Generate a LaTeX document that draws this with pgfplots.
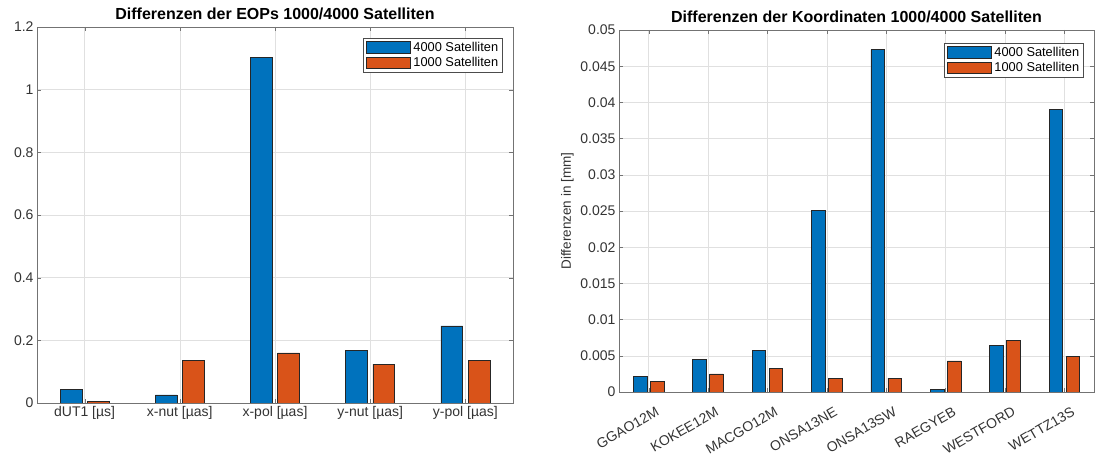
\documentclass[border=0pt]{standalone}
\usepackage{fontspec}
\setmainfont{Liberation Sans}
\usepackage{pgfplots}
\pgfplotsset{compat=1.18}
\definecolor{mblue}{rgb}{0,0.447,0.741}
\definecolor{morange}{rgb}{0.85,0.325,0.098}
\pgfplotsset{
  mstyle/.style={
    scale only axis,
    ybar,
    axis line style={black!55},
    tick style={black!55},
    major tick length=4pt,
    tick align=inside,
    grid=major,
    grid style={black!12, line width=0.5pt},
    enlargelimits=false,
    ymin=0,
    every tick label/.append style={font=\fontsize{14}{16}\selectfont, text=black!80},
    /pgf/number format/assume math mode=true,
    title style={font=\bfseries\fontsize{16}{18}\selectfont, yshift=-2pt},
    legend style={font=\fontsize{12.8}{14}\selectfont, draw=black!70, inner sep=2.5pt, row sep=2.5pt,
      nodes={inner sep=1.2pt}, /tikz/every odd column/.append style={column sep=2pt}},
    legend cell align=left,
  },
  legimg/.style={legend image code/.code={\draw[##1] (0pt,-5.8pt) rectangle (44pt,5.8pt);}},
  bluebar/.style={fill=mblue, draw=black!85, line width=0.6pt, bar width=0.229, bar shift=-0.143, legimg},
  orangebar/.style={fill=morange, draw=black!85, line width=0.6pt, bar width=0.229, bar shift=0.143, legimg},
}
\begin{document}
\begin{tikzpicture}
\useasboundingbox (0,0) rectangle (1096pt,457pt);
\begin{axis}[mstyle,
  at={(37pt,54pt)}, anchor=south west, width=476pt, height=376pt,
  xmin=0.5, xmax=5.5, ymax=1.2,
  xtick={1,2,3,4,5},
  xticklabels={dUT1 [µs], x-nut [µas], x-pol [µas], y-nut [µas], y-pol [µas]},
  ytick={0,0.2,0.4,0.6,0.8,1,1.2},
  yticklabel style={/pgf/number format/fixed, /pgf/number format/precision=2},
  title={Differenzen der EOPs 1000/4000 Satelliten},
  legend style={at={(axis description cs:0.977,0.971)}, anchor=north east},
]
\addplot[bluebar] coordinates {(1,0.044) (2,0.026) (3,1.104) (4,0.169) (5,0.246)};
\addlegendentry{4000 Satelliten}
\addplot[orangebar] coordinates {(1,0.006) (2,0.135) (3,0.160) (4,0.124) (5,0.135)};
\addlegendentry{1000 Satelliten}
\end{axis}
\begin{axis}[mstyle,
  at={(619pt,65pt)}, anchor=south west, width=475pt, height=362pt,
  xmin=0.5, xmax=8.5, ymax=0.05,
  xtick={1,2,3,4,5,6,7,8},
  xticklabels={GGAO12M, KOKEE12M, MACGO12M, ONSA13NE, ONSA13SW, RAEGYEB, WESTFORD, WETTZ13S},
  xticklabel style={xshift=6.5pt, yshift=-14pt, rotate=30, anchor=north east, inner sep=0pt},
  ytick={0,0.005,0.01,0.015,0.02,0.025,0.03,0.035,0.04,0.045,0.05},
  scaled y ticks=false,
  yticklabel style={/pgf/number format/fixed, /pgf/number format/precision=3},
  ylabel={Differenzen in [mm]},
  ylabel style={font=\fontsize{13.5}{15}\selectfont, text=black!80, xshift=0pt},
  title={Differenzen der Koordinaten 1000/4000 Satelliten},
  legend style={at={(axis description cs:0.977,0.964)}, anchor=north east},
]
\addplot[bluebar] coordinates {(1,0.0022) (2,0.0045) (3,0.00575) (4,0.0251) (5,0.0473) (6,0.0004) (7,0.00644) (8,0.03905)};
\addlegendentry{4000 Satelliten}
\addplot[orangebar] coordinates {(1,0.00148) (2,0.0025) (3,0.0033) (4,0.0019) (5,0.0019) (6,0.0043) (7,0.00713) (8,0.00492)};
\addlegendentry{1000 Satelliten}
\end{axis}
\end{tikzpicture}
\end{document}
